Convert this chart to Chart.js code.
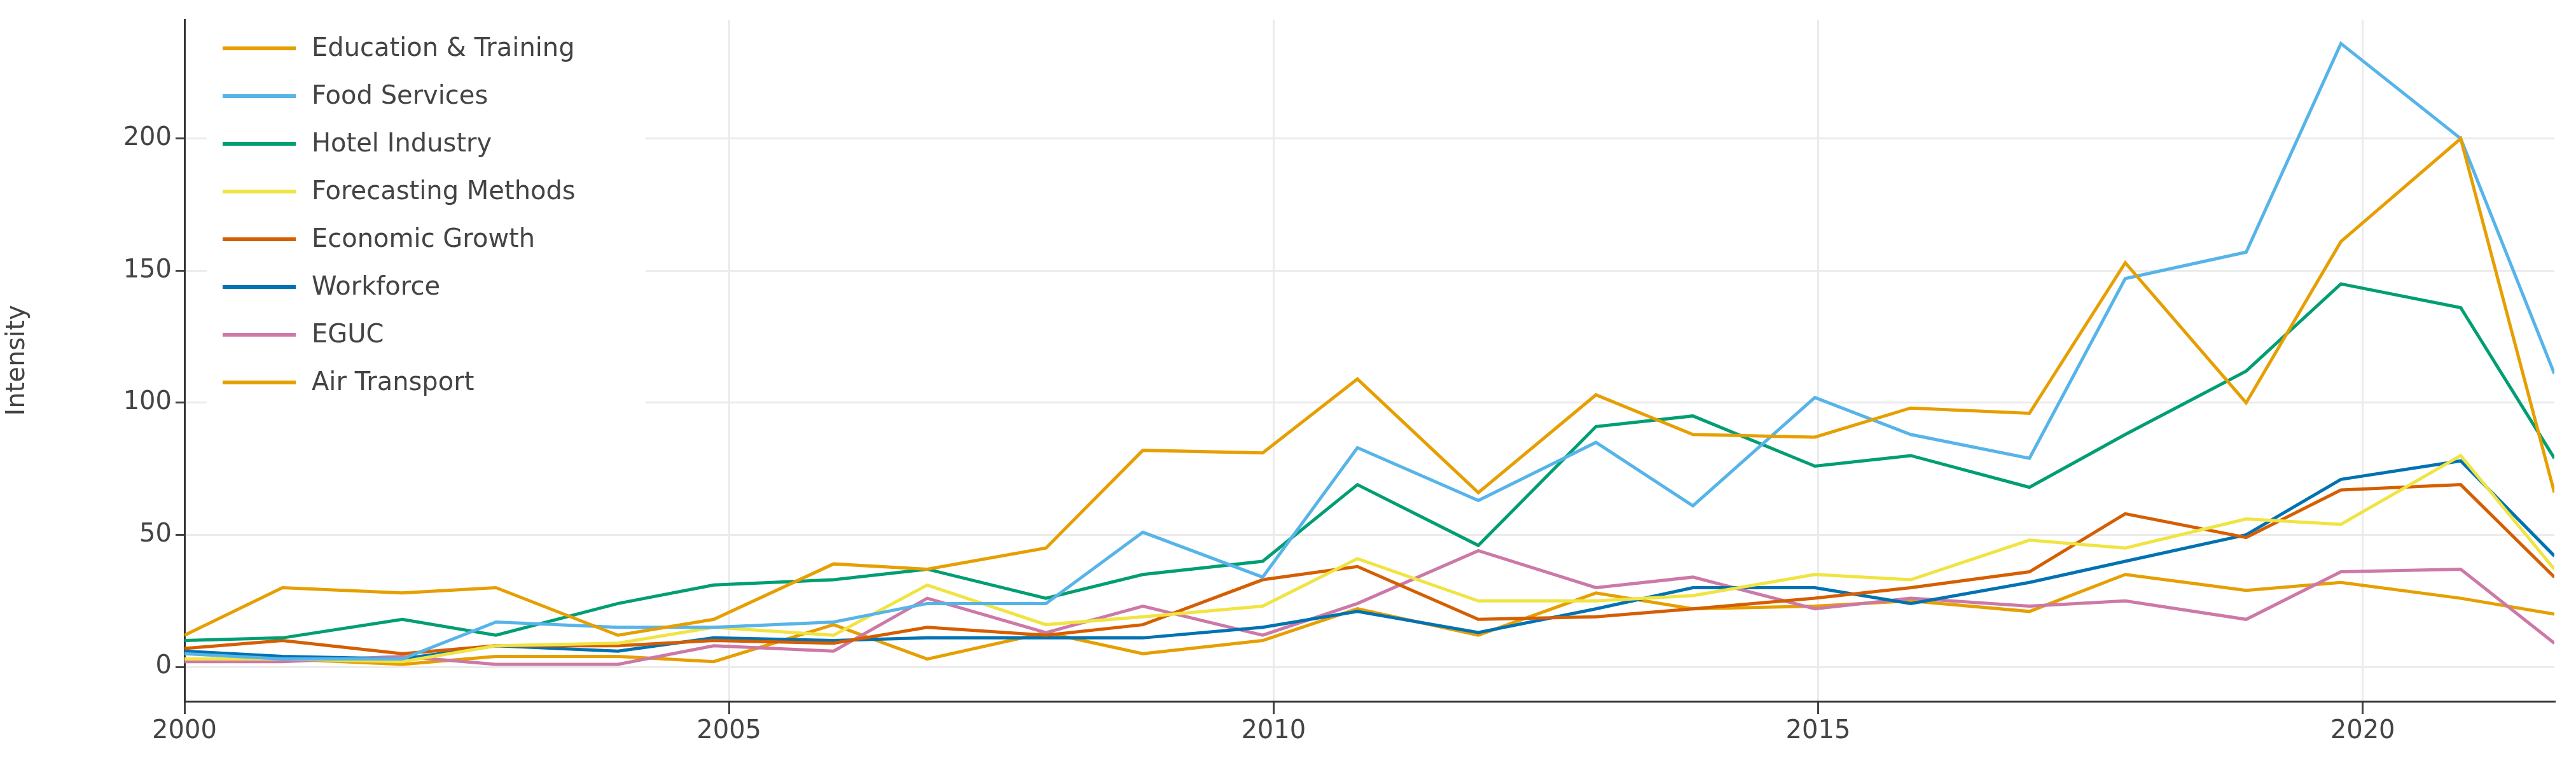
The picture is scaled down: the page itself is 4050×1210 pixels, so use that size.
<!DOCTYPE html>
<html>
<head>
<meta charset="utf-8">
<script src="https://cdn.jsdelivr.net/npm/chart.js@4"></script>
<style>
body{margin:0;background:#fff;}
#wrap{width:4050px;height:1210px;position:relative;}
</style>
</head>
<body>
<div id="wrap"><canvas id="chart"></canvas></div>
<script>
// x positions of the points (dates as fractional years)
const xs = [2000, 2000.9, 2002, 2002.86, 2003.98, 2004.86, 2005.96, 2006.82, 2007.91, 2008.8, 2009.9, 2010.77, 2011.88, 2012.96, 2013.85, 2014.97, 2015.85, 2016.94, 2017.82, 2018.93, 2019.8, 2020.9, 2021.76];

const names = ["Education & Training", "Food Services", "Hotel Industry", "Forecasting Methods", "Economic Growth", "Workforce", "EGUC", "Air Transport"];
const colors = ["#E69F00", "#56B4E9", "#009E73", "#F0E442", "#D55E00", "#0072B2", "#CC79A7", "#E69F00"];

const education = [12, 30, 28, 30, 12, 18, 39, 37, 45, 82, 81, 109, 66, 103, 88, 87, 98, 96, 153, 100, 161, 200, 66];
const food = [5, 3, 3, 17, 15, 15, 17, 24, 24, 51, 34, 83, 63, 85, 61, 102, 88, 79, 147, 157, 236, 200, 111];
const hotel = [10, 11, 18, 12, 24, 31, 33, 37, 26, 35, 40, 69, 46, 91, 95, 76, 80, 68, 88, 112, 145, 136, 79];
const forecasting = [3, 3, 2, 8, 9, 15, 12, 31, 16, 19, 23, 41, 25, 25, 27, 35, 33, 48, 45, 56, 54, 80, 37];
const growth = [7, 10, 5, 8, 8, 10, 9, 15, 12, 16, 33, 38, 18, 19, 22, 26, 30, 36, 58, 49, 67, 69, 34];
const workforce = [6, 4, 3, 8, 6, 11, 10, 11, 11, 11, 15, 21, 13, 22, 30, 30, 24, 32, 40, 50, 71, 78, 42];
const eguc = [2, 2, 4, 1, 1, 8, 6, 26, 13, 23, 12, 24, 44, 30, 34, 22, 26, 23, 25, 18, 36, 37, 9];
const air = [2, 3, 1, 4, 4, 2, 16, 3, 13, 5, 10, 22, 12, 28, 22, 23, 25, 21, 35, 29, 32, 26, 20];

const series = [education, food, hotel, forecasting, growth, workforce, eguc, air];
const xTicks = [2000, 2005, 2010, 2015, 2020];
const yTicks = [0, 50, 100, 150, 200];

const font = "DejaVu Sans";

// legend drawn inside the plot, top left
const insideLegend = {
  id: "insideLegend",
  afterDatasetsDraw(chart){
    const c = chart.ctx;
    const a = chart.chartArea;
    c.save();
    c.fillStyle = "#fff";
    c.fillRect(a.left + 35, a.top, 690, 630);
    c.font = "40px " + font;
    c.textBaseline = "middle";
    chart.data.datasets.forEach((ds, i) => {
      const y = a.top + 45 + i * 75;
      c.strokeStyle = ds.borderColor;
      c.lineWidth = 6;
      c.beginPath();
      c.moveTo(a.left + 60, y);
      c.lineTo(a.left + 175, y);
      c.stroke();
      c.fillStyle = "#444";
      c.fillText(ds.label, a.left + 200, y + 2);
    });
    c.restore();
  }
};

new Chart(document.getElementById("chart"), {
  type: "line",
  data: {
    datasets: series.map((s, i) => ({
      label: names[i],
      data: s.map((v, j) => ({x: xs[j], y: v})),
      borderColor: colors[i],
      backgroundColor: colors[i],
      borderWidth: 5,
      pointRadius: 0,
      tension: 0
    }))
  },
  options: {
    responsive: true,
    maintainAspectRatio: false,
    animation: false,
    layout: {padding: {top: 31, right: 34}},
    plugins: {legend: {display: false}, tooltip: {enabled: false}},
    scales: {
      x: {
        type: "linear",
        min: 2000,
        max: 2021.76,
        afterBuildTicks: ax => { ax.ticks = xTicks.map(v => ({value: v})); },
        afterFit: ax => { ax.height = 108; },
        grid: {color: "#ebebeb", lineWidth: 3, tickColor: "#444", tickLength: 20, drawOnChartArea: true},
        border: {color: "#333", width: 3},
        ticks: {color: "#444", font: {family: font, size: 40}, padding: 4, maxRotation: 0, callback: v => String(v)}
      },
      y: {
        min: -13,
        max: 245,
        afterBuildTicks: ax => { ax.ticks = yTicks.map(v => ({value: v})); },
        afterFit: ax => { ax.width = 290; },
        grid: {color: "#ebebeb", lineWidth: 3, tickColor: "#444", tickLength: 14},
        border: {color: "#333", width: 3},
        title: {display: true, text: "Intensity", color: "#444", font: {family: font, size: 40}},
        ticks: {color: "#444", font: {family: font, size: 40}, padding: 6}
      }
    }
  },
  plugins: [insideLegend]
});
</script>
</body>
</html>
